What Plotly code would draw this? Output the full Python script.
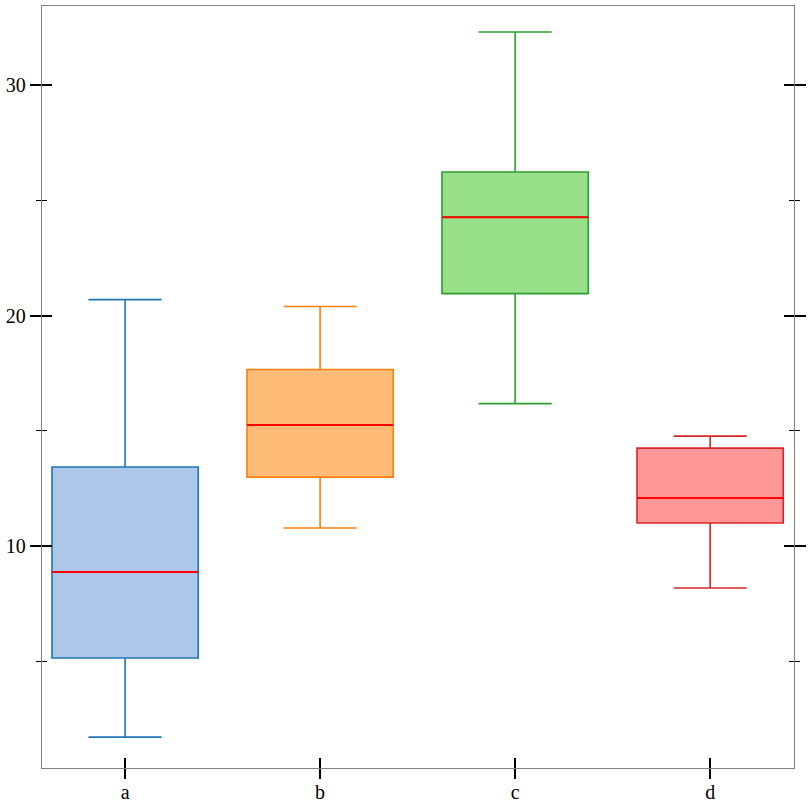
import plotly.graph_objects as go

categories = ["a", "b", "c", "d"]
lower_whisker = [1.71, 10.78, 16.18, 8.18]
q1 = [5.14, 12.99, 20.95, 11.0]
median = [8.87, 15.25, 24.27, 12.08]
q3 = [13.43, 17.66, 26.23, 14.25]
upper_whisker = [20.69, 20.39, 32.30, 14.77]
line_colors = ["#1f77b4", "#ff7f0e", "#2ca02c", "#d62728"]
fill_colors = ["#aec7e8", "#ffbb78", "#98df8a", "#ff9896"]
major_ticks = [10, 20, 30]
minor_ticks = [5, 15, 25]

BOX_W = 0.75
positions = list(range(len(categories)))

fig = go.Figure()
for i, cat in enumerate(categories):
    fig.add_trace(go.Box(
        x=[positions[i]], q1=[q1[i]], median=[median[i]], q3=[q3[i]],
        lowerfence=[lower_whisker[i]], upperfence=[upper_whisker[i]],
        width=BOX_W, whiskerwidth=0.5,
        line=dict(color=line_colors[i], width=1.6),
        fillcolor=fill_colors[i], boxpoints=False, showlegend=False,
        name=cat,
    ))

for i in positions:
    fig.add_trace(go.Scatter(
        x=[positions[i] - BOX_W / 2, positions[i] + BOX_W / 2],
        y=[median[i], median[i]], mode="lines",
        line=dict(color="#ff0000", width=2), showlegend=False,
        xaxis="x2", yaxis="y2", hoverinfo="skip",
    ))

xr = [-0.426, 3.43]
yr = [0.37, 33.43]
font = dict(family="Liberation Serif, Times New Roman, serif", size=20, color="black")

fig.update_layout(
    width=812, height=812,
    margin=dict(l=42, r=18, t=6, b=44),
    paper_bgcolor="white", plot_bgcolor="white",
    font=font,
    xaxis=dict(range=xr, tickvals=positions, ticktext=categories,
               ticks="outside", ticklen=10, tickwidth=1.5, tickcolor="black",
               ticklabelstandoff=-4,
               showline=True, linecolor="#808080", linewidth=1.3, mirror=True,
               showgrid=False, zeroline=False, tickfont=font),
    yaxis=dict(range=yr, tickvals=major_ticks,
               ticks="outside", ticklen=11, tickwidth=1.5, tickcolor="black",
               minor=dict(tickvals=minor_ticks, ticks="outside", ticklen=5,
                          tickwidth=1, tickcolor="black", showgrid=False),
               showline=True, linecolor="#808080", linewidth=1.3, mirror="ticks",
               showgrid=False, zeroline=False, tickfont=font),
    xaxis2=dict(range=xr, overlaying="x", anchor="y2", side="bottom",
                tickvals=positions, ticks="inside", ticklen=10, tickwidth=1.5,
                tickcolor="black", showticklabels=False, showline=False,
                showgrid=False, zeroline=False),
    yaxis2=dict(range=yr, overlaying="y", anchor="x2", side="left",
                tickvals=major_ticks, ticks="inside", ticklen=10, tickwidth=1.5,
                tickcolor="black",
                minor=dict(tickvals=minor_ticks, ticks="inside", ticklen=5,
                           tickwidth=1, tickcolor="black", showgrid=False),
                mirror="ticks", showticklabels=False, showline=False,
                showgrid=False, zeroline=False),
)

fig.write_html("out.html")
